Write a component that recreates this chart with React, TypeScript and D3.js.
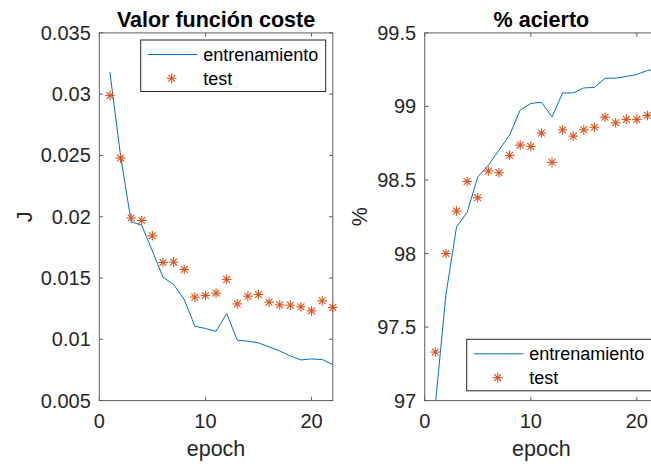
import React from "react";
import * as d3 from "d3";

// Epochs shared by both panels
const epochs = d3.range(1, 23);

// Cost function J per epoch
const costTrain = [
  0.0318, 0.025, 0.0196, 0.0193, 0.0172, 0.01507, 0.01448, 0.01325, 0.01107, 0.01088, 0.01066,
  0.01211, 0.00993, 0.00985, 0.00971, 0.00938, 0.00905, 0.00864, 0.00832, 0.0084, 0.00835, 0.00794,
];
const costTest = [
  0.0299, 0.0248, 0.0199, 0.0197, 0.01845, 0.01627, 0.0163, 0.0157, 0.01344, 0.01358, 0.01377,
  0.01489, 0.01289, 0.01352, 0.01366, 0.01303, 0.01281, 0.01279, 0.01265, 0.01232, 0.01314, 0.0126,
];

// Accuracy (%) per epoch
const accTrain = [
  96.97, 97.72, 98.18, 98.28, 98.52, 98.6, 98.703, 98.805, 98.975, 99.02, 99.029,
  98.929, 99.092, 99.092, 99.126, 99.129, 99.192, 99.192, 99.204, 99.217, 99.245, 99.25,
];
const accTest = [
  97.33, 98.0, 98.289, 98.49, 98.379, 98.561, 98.549, 98.667, 98.737, 98.728, 98.819,
  98.62, 98.841, 98.798, 98.841, 98.859, 98.927, 98.889, 98.912, 98.912, 98.939, 98.95,
];

const xTicks = [0, 10, 20];
const costTicks = [0.005, 0.01, 0.015, 0.02, 0.025, 0.03, 0.035];
const accTicks = [97, 97.5, 98, 98.5, 99, 99.5];

const legendLabels = ["entrenamiento", "test"];

const BLUE = "#0072BD";
const ORANGE = "#D95319";
const AXIS = "#5f5f5f";
const TEXT = "#262626";
const FONT = "'Liberation Sans', Arial, Helvetica, sans-serif";

const TOP = 32.9;
const BOTTOM = 400.6;

function Asterisk({ x, y, r = 4.8 }: { x: number; y: number; r?: number }) {
  const d = r * 0.7071;
  return (
    <g stroke={ORANGE} strokeWidth={1.1} fill="none">
      <line x1={x - r} y1={y} x2={x + r} y2={y} />
      <line x1={x} y1={y - r} x2={x} y2={y + r} />
      <line x1={x - d} y1={y - d} x2={x + d} y2={y + d} />
      <line x1={x - d} y1={y + d} x2={x + d} y2={y - d} />
    </g>
  );
}

type PanelProps = {
  id: string;
  left: number;
  right: number;
  domainY: [number, number];
  yTicks: number[];
  fmt: (v: number) => string;
  train: number[];
  test: number[];
  title: string;
  ylabel: string;
  ylabelX: number;
  legend: { x: number; y: number };
};

function Panel(p: PanelProps) {
  const x = d3.scaleLinear().domain([0, 22]).range([p.left, p.right]);
  const y = d3.scaleLinear().domain(p.domainY).range([BOTTOM, TOP]);
  const line = d3
    .line<number>()
    .x((_, i) => x(epochs[i]))
    .y((v) => y(v));
  const tl = 3.8;
  const cx = (p.left + p.right) / 2;
  const lw = 185;
  const lh = 51.5;
  return (
    <g>
      <defs>
        <clipPath id={p.id}>
          <rect x={p.left} y={TOP} width={p.right - p.left} height={BOTTOM - TOP} />
        </clipPath>
      </defs>
      <rect x={p.left} y={TOP} width={p.right - p.left} height={BOTTOM - TOP} fill="#fff" />
      {/* ticks, inward on all four sides */}
      {xTicks.map((t) => (
        <g key={"x" + t} stroke={AXIS} strokeWidth={1}>
          <line x1={x(t)} x2={x(t)} y1={BOTTOM} y2={BOTTOM - tl} />
          <line x1={x(t)} x2={x(t)} y1={TOP} y2={TOP + tl} />
        </g>
      ))}
      {p.yTicks.map((t) => (
        <g key={"y" + t} stroke={AXIS} strokeWidth={1}>
          <line x1={p.left} x2={p.left + tl} y1={y(t)} y2={y(t)} />
          <line x1={p.right} x2={p.right - tl} y1={y(t)} y2={y(t)} />
        </g>
      ))}
      <rect
        x={p.left}
        y={TOP}
        width={p.right - p.left}
        height={BOTTOM - TOP}
        fill="none"
        stroke={AXIS}
        strokeWidth={1}
      />
      <path d={line(p.train) ?? ""} fill="none" stroke={BLUE} strokeWidth={1} clipPath={`url(#${p.id})`} />
      {p.test.map((v, i) => (
        <Asterisk key={i} x={x(epochs[i])} y={y(v)} />
      ))}
      {/* tick labels */}
      {xTicks.map((t) => (
        <text key={"xl" + t} x={x(t)} y={428} textAnchor="middle" fontSize={20} fill={TEXT} fontFamily={FONT}>
          {t}
        </text>
      ))}
      {p.yTicks.map((t) => (
        <text
          key={"yl" + t}
          x={p.left - 8.5}
          y={y(t) + 7}
          textAnchor="end"
          fontSize={20}
          fill={TEXT}
          fontFamily={FONT}
        >
          {p.fmt(t)}
        </text>
      ))}
      <text x={cx} y={456} textAnchor="middle" fontSize={21.5} fill={TEXT} fontFamily={FONT}>
        epoch
      </text>
      <text
        transform={`translate(${p.ylabelX},${(TOP + BOTTOM) / 2}) rotate(-90)`}
        textAnchor="middle"
        fontSize={21.5}
        fill={TEXT}
        fontFamily={FONT}
      >
        {p.ylabel}
      </text>
      <text x={cx} y={27} textAnchor="middle" fontSize={21.5} fontWeight="bold" fill="#000" fontFamily={FONT}>
        {p.title}
      </text>
      {/* legend */}
      <g>
        <rect x={p.legend.x} y={p.legend.y} width={lw} height={lh} fill="#fff" stroke={TEXT} strokeWidth={1} />
        <line
          x1={p.legend.x + 7}
          x2={p.legend.x + 56.6}
          y1={p.legend.y + 14.5}
          y2={p.legend.y + 14.5}
          stroke={BLUE}
          strokeWidth={1}
        />
        <Asterisk x={p.legend.x + 31} y={p.legend.y + 38.3} />
        {legendLabels.map((s, i) => (
          <text
            key={s}
            x={p.legend.x + 62.5}
            y={p.legend.y + 21 + i * 24}
            fontSize={18}
            fill="#000"
            fontFamily={FONT}
          >
            {s}
          </text>
        ))}
      </g>
    </g>
  );
}

export default function App() {
  return (
    <svg
      width={651}
      height={464}
      style={{ position: "absolute", left: 0, top: 0, background: "#fff" }}
      xmlns="http://www.w3.org/2000/svg"
    >
      <rect width={651} height={464} fill="#fff" />
      <Panel
        id="clipCost"
        left={99.3}
        right={332.8}
        domainY={[0.005, 0.035]}
        yTicks={costTicks}
        fmt={(v) => d3.format(".3~f")(v)}
        train={costTrain}
        test={costTest}
        title="Valor función coste"
        ylabel="J"
        ylabelX={31.5}
        legend={{ x: 140.7, y: 40 }}
      />
      <Panel
        id="clipAcc"
        left={424.7}
        right={658.1}
        domainY={[97, 99.5]}
        yTicks={accTicks}
        fmt={(v) => d3.format(".1~f")(v)}
        train={accTrain}
        test={accTest}
        title="% acierto"
        ylabel="%"
        ylabelX={367}
        legend={{ x: 466.7, y: 339.3 }}
      />
    </svg>
  );
}
